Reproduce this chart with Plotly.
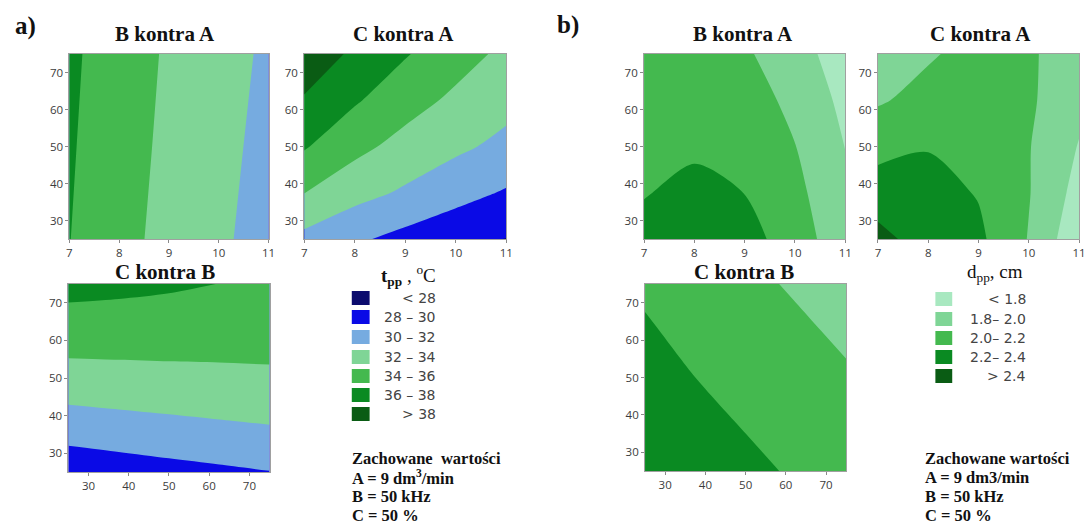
import plotly.graph_objects as go

W, H = 1092, 524

# ---------------- data ----------------
A_vals = [7, 8, 9, 10, 11]            # A, dm3/min
B_vals = [25, 37.5, 50, 62.5, 75]     # B, kHz
C_vals = [25, 37.5, 50, 62.5, 75]     # C, %
B_vals3 = [25, 50, 75]

A_ticks = [7, 8, 9, 10, 11]
BC_ticks = [30, 40, 50, 60, 70]

NB = "\u00a0"
t_levels = [28, 30, 32, 34, 36, 38]
t_labels = ["<" + NB + "28", "28" + NB + "–" + NB + "30", "30" + NB + "–" + NB + "32",
            "32" + NB + "–" + NB + "34", "34" + NB + "–" + NB + "36",
            "36" + NB + "–" + NB + "38", ">" + NB + "38"]
t_colors = ["#0c0c6e", "#0a0ae6", "#76abe0", "#7fd596", "#44b94f", "#0a8a22", "#0a5c14"]

d_levels = [1.8, 2.0, 2.2, 2.4]
d_labels = ["<" + NB + "1.8", "1.8–" + NB + "2.0", "2.0–" + NB + "2.2",
            "2.2–" + NB + "2.4", ">" + NB + "2.4"]
d_colors = ["#a8e8c0", "#7fd596", "#44b94f", "#0a8a22", "#0a5c14"]

# t_pp, B (rows) vs A (cols)
t_BA = [
    [36.04, 34.62, 33.40, 32.32, 31.25],
    [36.20, 34.82, 33.58, 32.52, 31.47],
    [36.35, 35.01, 33.75, 32.72, 31.69],
]
# t_pp, C (rows) vs A (cols)
t_CA = [
    [31.46, 30.32, 29.40, 28.66, 27.95],
    [34.04, 32.69, 31.72, 30.67, 29.82],
    [36.18, 34.55, 33.33, 32.39, 31.48],
    [37.80, 36.22, 34.78, 33.61, 32.63],
    [39.40, 37.61, 36.15, 34.79, 33.56],
]
# t_pp, C (rows) vs B (cols)
t_CB = [
    [28.67, 29.02, 29.36, 29.66, 29.95],
    [31.05, 31.32, 31.56, 31.79, 31.99],
    [33.25, 33.37, 33.48, 33.58, 33.67],
    [35.03, 35.00, 34.95, 34.86, 34.82],
    [36.63, 36.47, 36.26, 35.98, 35.84],
]
# d_pp, B (rows) vs A (cols)
d_BA = [
    [2.26, 2.32, 2.27, 2.11, 1.86],
    [2.19, 2.25, 2.198, 2.046, 1.86],
    [2.12, 2.17, 2.13, 2.005, 1.795],
    [2.08, 2.12, 2.09, 1.95, 1.75],
    [2.03, 2.07, 2.03, 1.87, 1.714],
]
# d_pp, C (rows) vs A (cols)
d_CA = [
    [2.46, 2.31, 2.24, 1.99, 1.65],
    [2.30, 2.27, 2.188, 2.01, 1.73],
    [2.133, 2.19, 2.12, 2.01, 1.79],
    [1.98, 2.06, 2.09, 2.03, 1.85],
    [1.88, 1.98, 2.06, 2.02, 1.92],
]
# d_pp, C (rows) vs B (cols)
d_CB = [
    [2.36, 2.30, 2.24, 2.18, 2.12],
    [2.31, 2.25, 2.19, 2.13, 2.07],
    [2.27, 2.20, 2.14, 2.08, 2.02],
    [2.22, 2.15, 2.09, 2.03, 1.97],
    [2.17, 2.10, 2.04, 1.98, 1.92],
]


def px_x(p):
    return p / W


def px_y(p):
    return 1 - p / H


def step_scale(colors):
    n = len(colors)
    cs = []
    for i, c in enumerate(colors):
        cs.append([i / n, c])
        cs.append([(i + 1) / n, c])
    return cs


panels = [
    dict(x=A_vals, y=B_vals3, z=t_BA, kind="t", xr=[7, 11], xt=A_ticks,
         box=(67, 268, 54, 239), title="B kontra A", tpos=(163, 34)),
    dict(x=A_vals, y=C_vals, z=t_CA, kind="t", xr=[7, 11], xt=A_ticks,
         box=(304, 508, 54, 239), title="C kontra A", tpos=(404, 34)),
    dict(x=B_vals, y=C_vals, z=t_CB, kind="t", xr=[25, 75], xt=BC_ticks,
         box=(66, 269, 284, 472), title="C kontra B", tpos=(163, 272)),
    dict(x=A_vals, y=B_vals, z=d_BA, kind="d", xr=[7, 11], xt=A_ticks,
         box=(647, 850, 54, 239), title="B kontra A", tpos=(747, 34)),
    dict(x=A_vals, y=C_vals, z=d_CA, kind="d", xr=[7, 11], xt=A_ticks,
         box=(883, 1086, 54, 239), title="C kontra A", tpos=(987, 34)),
    dict(x=B_vals, y=C_vals, z=d_CB, kind="d", xr=[25, 75], xt=BC_ticks,
         box=(648, 851, 284, 471), title="C kontra B", tpos=(748, 272)),
]

fig = go.Figure()
layout_axes = {}
annotations = []
shapes = []

tick_font = dict(family="Open Sans, Noto Sans, sans-serif", size=11.5, color="#3c3c3c")
title_font = dict(family="Liberation Serif, Times New Roman, serif", size=21, color="#111111")

for i, p in enumerate(panels, start=1):
    if p["kind"] == "t":
        levels, colors = t_levels, t_colors
    else:
        levels, colors = d_levels, d_colors
    size = round(levels[1] - levels[0], 6)
    xa = "x" if i == 1 else f"x{i}"
    ya = "y" if i == 1 else f"y{i}"
    fig.add_trace(go.Contour(
        x=p["x"], y=p["y"], z=p["z"],
        xaxis=xa, yaxis=ya,
        autocontour=False,
        contours=dict(start=levels[0], end=levels[-1], size=size,
                      coloring="fill", showlines=False),
        line=dict(width=0, smoothing=0.8),
        colorscale=step_scale(colors),
        showscale=False,
        hoverinfo="skip",
    ))
    x0, x1, y0, y1 = p["box"]
    axis_common = dict(showgrid=False, zeroline=False, showline=True, mirror=True,
                       linecolor="#a0a0a0", linewidth=1, ticks="outside",
                       ticklen=3, tickcolor="#8a8a8a", tickfont=tick_font)
    layout_axes["xaxis" if i == 1 else f"xaxis{i}"] = dict(
        domain=[px_x(x0), px_x(x1)], anchor=ya, range=p["xr"],
        tickvals=p["xt"], **axis_common)
    layout_axes["yaxis" if i == 1 else f"yaxis{i}"] = dict(
        domain=[px_y(y1), px_y(y0)], anchor=xa, range=[25, 75],
        tickvals=BC_ticks, **axis_common)
    annotations.append(dict(
        text=f"<b>{p['title']}</b>", x=px_x(p["tpos"][0]), y=px_y(p["tpos"][1]),
        xref="paper", yref="paper", xanchor="center", yanchor="middle",
        showarrow=False, font=title_font))

# panel labels
for lab, xp, yp in [("a)", 23, 26), ("b)", 570, 25)]:
    annotations.append(dict(
        text=f"<b>{lab}</b>", x=px_x(xp), y=px_y(yp), xref="paper", yref="paper",
        xanchor="center", yanchor="middle", showarrow=False,
        font=dict(family="Liberation Serif, serif", size=25, color="#111111")))

# legends
leg_font = dict(family="DejaVu Sans, sans-serif", size=14, color="#444444")


def add_legend(title, tx, ty, labels, colors, sx0, sx1, rows, lab_right):
    annotations.append(dict(
        text=title, x=px_x(tx), y=px_y(ty), xref="paper", yref="paper",
        xanchor="center", yanchor="middle", showarrow=False,
        font=dict(family="Liberation Serif, serif", size=19, color="#111111")))
    for lab, col, ry in zip(labels, colors, rows):
        shapes.append(dict(type="rect", xref="paper", yref="paper",
                           x0=px_x(sx0), x1=px_x(sx1), y0=px_y(ry + 7), y1=px_y(ry - 7),
                           fillcolor=col, line=dict(width=0)))
        annotations.append(dict(
            text=lab, x=px_x(lab_right), y=px_y(ry), xref="paper", yref="paper",
            xanchor="right", yanchor="middle", showarrow=False, font=leg_font))


add_legend("<b>t<sub>pp</sub></b> , <sup>o</sup>C", 409, 275,
           t_labels, t_colors, 352, 370,
           [298, 317, 337, 357, 376, 395, 414], 439)
add_legend("d<sub>pp</sub>, cm", 1001, 273,
           d_labels, d_colors, 941, 958,
           [299, 319, 338, 357, 376], 1034)

# kept values text
note_font = dict(family="Liberation Serif, serif", size=16.5, color="#111111")
notes_a = ["Zachowane" + NB + NB + "wartości", "A = 9 dm<sup>3</sup>/min", "B = 50 kHz", "C = 50 %"]
notes_b = ["Zachowane wartości", "A = 9 dm3/min", "B = 50 kHz", "C = 50 %"]
for notes, xs in [(notes_a, 350), (notes_b, 928)]:
    for k, line in enumerate(notes):
        annotations.append(dict(
            text=f"<b>{line}</b>", x=px_x(xs), y=px_y(458 + 19 * k),
            xref="paper", yref="paper", xanchor="left", yanchor="middle",
            showarrow=False, font=note_font))

fig.update_layout(
    width=W, height=H, autosize=False,
    margin=dict(l=0, r=0, t=0, b=0),
    paper_bgcolor="white", plot_bgcolor="white",
    showlegend=False,
    annotations=annotations, shapes=shapes,
    **layout_axes,
)

fig.write_html(
    "out.html",
    config={"displayModeBar": False},
    post_script="document.body.style.margin='0px';document.body.style.overflow='hidden';",
)
